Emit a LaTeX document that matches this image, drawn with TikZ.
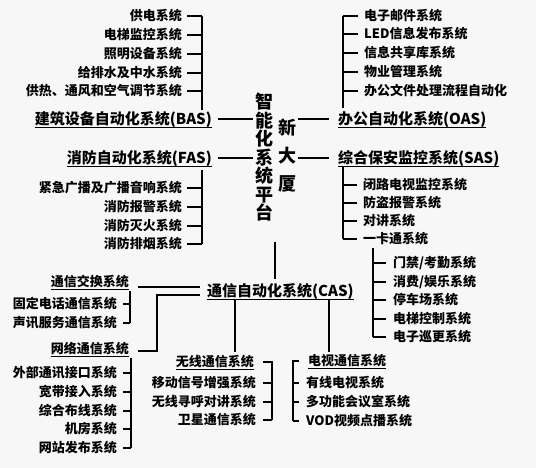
\documentclass[tikz,border=0pt]{standalone}
\usepackage{fontspec}
\setmainfont{Noto Sans CJK SC}
\definecolor{bgc}{RGB}{247,247,247}
\begin{document}
\begin{tikzpicture}[x=1pt,y=-1pt,
  ln/.style={line width=1.6pt},
  uline/.style={line width=1.2pt},
  item/.style={font=\fontsize{13}{13}\selectfont\bfseries, inner sep=0pt, text height=11.4pt, text depth=1.6pt},
  head/.style={font=\fontsize{15}{15}\selectfont\bfseries, inner xsep=0pt, inner ysep=1pt, text height=13.2pt, text depth=1.8pt},
  sub/.style={font=\fontsize{13}{13}\selectfont\bfseries, inner xsep=0pt, inner ysep=0.5pt, text height=11.4pt, text depth=1.6pt},
]
\fill[bgc] (0,0) rectangle (536,468);
\useasboundingbox (0,0) rectangle (536,468);

% ---- centre
\node[font=\fontsize{18}{18.5}\selectfont\bfseries, align=center, inner sep=2pt] (plat) at (264,157.5) {智\\能\\化\\系\\统\\平\\台};
\node[font=\fontsize{18}{28}\selectfont\bfseries, align=center, inner sep=2pt] (xin) at (287,156) {新\\大\\厦};

% ---- headings
\node[head, anchor=east] (bas) at (212,119) {建筑设备自动化系统(BAS)};
\node[head, anchor=west] (oas) at (338,119) {办公自动化系统(OAS)};
\node[head, anchor=east] (fas) at (212,158) {消防自动化系统(FAS)};
\node[head, anchor=west] (sas) at (338,158) {综合保安监控系统(SAS)};
\node[head, anchor=west] (cas) at (207,291) {通信自动化系统(CAS)};
\node[sub, anchor=east] (txjh) at (129,282) {通信交换系统};
\node[sub, anchor=east] (wl) at (129,349) {网络通信系统};
\node[sub, anchor=east] (wx) at (254,362) {无线通信系统};
\node[sub, anchor=west] (ds) at (308,361) {电视通信系统};
\foreach \n in {bas,oas,fas,sas,cas,txjh,wl,wx,ds}
  \draw[uline] (\n.south west) -- (\n.south east);

% ---- BAS items
\node[item, anchor=east] (b1) at (182,16) {供电系统};
\node[item, anchor=east] (b2) at (182,35) {电梯监控系统};
\node[item, anchor=east] (b3) at (182,54) {照明设备系统};
\node[item, anchor=east] (b4) at (182,73) {给排水及中水系统};
\node[item, anchor=east] (b5) at (182,91) {供热、通风和空气调节系统};
\coordinate (bx) at (202,0);
\draw[ln] (b1 -| bx) -- (bas.north -| bx);
\foreach \n in {b1,b2,b3,b4,b5} \draw[ln] ([xshift=5pt]\n.east) -- (\n -| bx);

% ---- OAS items
\node[item, anchor=west] (o1) at (364,16) {电子邮件系统};
\node[item, anchor=west] (o2) at (364,34) {LED信息发布系统};
\node[item, anchor=west] (o3) at (364,53) {信息共享库系统};
\node[item, anchor=west] (o4) at (364,72) {物业管理系统};
\node[item, anchor=west] (o5) at (364,91) {办公文件处理流程自动化};
\coordinate (ox) at (343,0);
\draw[ln] (o1 -| ox) -- ([yshift=2pt]oas.north -| ox);
\foreach \n in {o1,o2,o3,o4,o5} \draw[ln] ([xshift=-6pt]\n.west) -- (\n -| ox);

% ---- FAS items
\node[item, anchor=east] (f1) at (182,188) {紧急广播及广播音响系统};
\node[item, anchor=east] (f2) at (182,207) {消防报警系统};
\node[item, anchor=east] (f3) at (182,226) {消防灭火系统};
\node[item, anchor=east] (f4) at (182,244) {消防排烟系统};
\draw[ln] ([yshift=-3pt]fas.south -| bx) -- (f4 -| bx);
\foreach \n in {f1,f2,f3,f4} \draw[ln] ([xshift=5pt]\n.east) -- (\n -| bx);

% ---- SAS items
\node[item, anchor=west] (s1) at (363,185) {闭路电视监控系统};
\node[item, anchor=west] (s2) at (363,203) {防盗报警系统};
\node[item, anchor=west] (s3) at (363,221) {对讲系统};
\node[item, anchor=west] (s4) at (363,239) {一卡通系统};
\draw[ln] (sas.south -| ox) -- (s4 -| ox);
\foreach \n in {s1,s2,s3,s4} \draw[ln] ([xshift=-6pt]\n.west) -- (\n -| ox);

% ---- card sub-items
\node[item, anchor=west] (k1) at (393,263) {门禁/考勤系统};
\node[item, anchor=west] (k2) at (393,282) {消费/娱乐系统};
\node[item, anchor=west] (k3) at (393,300) {停车场系统};
\node[item, anchor=west] (k4) at (393,319) {电梯控制系统};
\node[item, anchor=west] (k5) at (393,337) {电子巡更系统};
\coordinate (kx) at (373,0);
\draw[ln] ([yshift=-2pt]s4.south -| kx) -- (k5 -| kx);
\foreach \n in {k1,k2,k3,k4,k5} \draw[ln] ([xshift=-7pt]\n.west) -- (\n -| kx);

% ---- centre connectors
\draw[ln] ([xshift=6pt]bas.east) -- (bas -| plat.west);
\draw[ln] ([xshift=6pt]fas.east) -- (fas -| plat.west);
\draw[ln] (xin.east |- oas) -- ([xshift=-9pt]oas.west);
\draw[ln] (xin.east |- sas) -- ([xshift=-9pt]sas.west);
\coordinate (pc) at (275,242);
\draw[ln] (pc) -- ([yshift=3pt]cas.north -| pc);

% ---- CAS connectors
\draw[ln] ([xshift=9pt,yshift=-5pt]txjh.east) coordinate (t0) -- ([xshift=-7pt]cas.west |- t0);
\draw[ln] ([xshift=9pt,yshift=-2pt]wl.east) -- ++(19,0) |- ([xshift=-7pt,yshift=-4pt]cas.west);
\coordinate (wxl) at (235,0);
\coordinate (dsl) at (329,0);
\draw[ln] (cas.south -| wxl) -- ([yshift=3pt]wx.north -| wxl);
\draw[ln] (cas.south -| dsl) -- ([yshift=2pt]ds.north -| dsl);

% ---- 通信交换 items
\node[item, anchor=east] (t1) at (117,304) {固定电话通信系统};
\node[item, anchor=east] (t2) at (117,323) {声讯服务通信系统};
\coordinate (tx) at (130,0);
\draw[ln] ([yshift=-2pt]txjh.south -| tx) -- (t2 -| tx);
\foreach \n in {t1,t2} \draw[ln] ([xshift=6pt]\n.east) -- (\n -| tx);

% ---- 网络 items
\node[item, anchor=east] (w1) at (117,373) {外部通讯接口系统};
\node[item, anchor=east] (w2) at (117,392) {宽带接入系统};
\node[item, anchor=east] (w3) at (117,411) {综合布线系统};
\node[item, anchor=east] (w4) at (117,429) {机房系统};
\node[item, anchor=east] (w5) at (117,448) {网站发布系统};
\coordinate (wlx) at (131,0);
\draw[ln] ([yshift=-2pt]wl.south -| wlx) -- (w5 -| wlx);
\foreach \n in {w1,w2,w3,w4,w5} \draw[ln] ([xshift=6pt]\n.east) -- (\n -| wlx);

% ---- 无线 items
\node[item, anchor=east] (x1) at (256,383) {移动信号增强系统};
\node[item, anchor=east] (x2) at (256,402) {无线寻呼对讲系统};
\node[item, anchor=east] (x3) at (256,420) {卫星通信系统};
\coordinate (xx) at (272,0);
\draw[ln] ([xshift=9pt]wx.east) -- (wx -| xx) -- (x3 -| xx);
\foreach \n in {x1,x2,x3} \draw[ln] ([xshift=7pt]\n.east) -- (\n -| xx);

% ---- 电视 items
\node[item, anchor=west] (d1) at (306,383) {有线电视系统};
\node[item, anchor=west] (d2) at (306,402) {多功能会议室系统};
\node[item, anchor=west] (d3) at (306,421) {VOD视频点播系统};
\coordinate (dx) at (293,0);
\draw[ln] ([xshift=-9pt]ds.west) -- (ds -| dx) -- (d3 -| dx);
\foreach \n in {d1,d2,d3} \draw[ln] ([xshift=-7pt]\n.west) -- (\n -| dx);
\end{tikzpicture}
\end{document}
